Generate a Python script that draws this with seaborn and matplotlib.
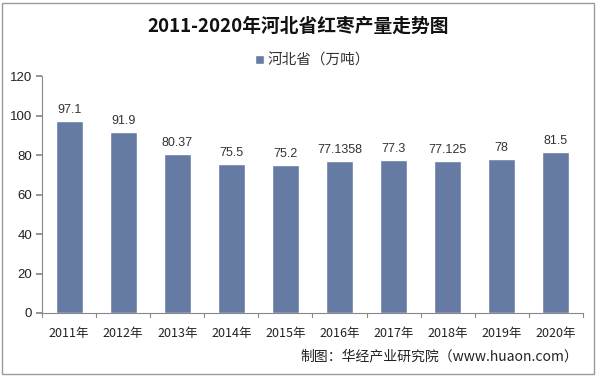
import matplotlib
matplotlib.use('Agg')
import matplotlib.pyplot as plt
import seaborn as sns
import pandas as pd
from matplotlib.patches import Rectangle

# 데이터
years = ['2011年', '2012年', '2013年', '2014年', '2015年', '2016年', '2017年', '2018年', '2019年', '2020年']
values = [97.1, 91.9, 80.37, 75.5, 75.2, 77.1358, 77.3, 77.125, 78, 81.5]
labels = ['97.1', '91.9', '80.37', '75.5', '75.2', '77.1358', '77.3', '77.125', '78', '81.5']
series_name = '河北省（万吨）'

sns.set_theme(style='white')
plt.rcParams['font.family'] = ['Noto Sans CJK SC', 'DejaVu Sans']
plt.rcParams['axes.unicode_minus'] = False

bar_color = '#657ba3'
df = pd.DataFrame({'year': years, 'value': values})

fig = plt.figure(figsize=(5.97, 3.76), dpi=100)
ax = fig.add_axes([0.0704, 0.1676, 0.906, 0.630])

sns.barplot(data=df, x='year', y='value', color=bar_color, width=0.5,
            saturation=1, ax=ax, label=series_name)

for i, (v, t) in enumerate(zip(values, labels)):
    ax.text(i, v + 2.5, t, ha='center', va='bottom', fontsize=9,
            color='#333333', family=['Liberation Sans', 'DejaVu Sans'])

ax.set_ylim(0, 120)
ax.set_yticks(range(0, 121, 20))
ax.set_xlim(-0.5, len(years) - 0.5)
ax.set_xlabel('')
ax.set_ylabel('')

for s in ['top', 'right']:
    ax.spines[s].set_visible(False)
ax.spines['left'].set_color('#888888')
ax.spines['bottom'].set_color('#888888')
ax.spines['left'].set_linewidth(0.8)
ax.spines['bottom'].set_linewidth(0.8)

ax.tick_params(axis='y', left=True, direction='out', length=4, color='#888888',
               labelsize=9.5, labelcolor='#222222', pad=3)
ax.tick_params(axis='x', bottom=False, labelsize=9, labelcolor='#222222', pad=4)
for lab in ax.get_yticklabels():
    lab.set_family(['Liberation Sans', 'DejaVu Sans'])

# x 눈금선: 카테고리 사이
for b in [i - 0.5 for i in range(len(years) + 1)]:
    ax.plot([b, b], [0, -2.2], color='#888888', lw=0.8, clip_on=False)

leg = ax.legend(loc='lower center', bbox_to_anchor=(0.5, 1.0), frameon=False,
                fontsize=10.5, handlelength=0.6, handleheight=0.6, handletextpad=0.2,
                borderaxespad=0.2)
for t in leg.get_texts():
    t.set_color('#333333')

fig.text(0.5, 0.93, '2011-2020年河北省红枣产量走势图', ha='center', va='center',
         fontsize=13.5, fontweight='bold', color='#111111')
fig.text(0.968, 0.052, '制图：华经产业研究院（www.huaon.com）', ha='right', va='center',
         fontsize=10, color='#222222')

fig.patches.append(Rectangle((0.004, 0.006), 0.991, 0.985, transform=fig.transFigure,
                             fill=False, edgecolor='#9a9a9a', lw=1.0))

fig.savefig('out.png', dpi=100)
